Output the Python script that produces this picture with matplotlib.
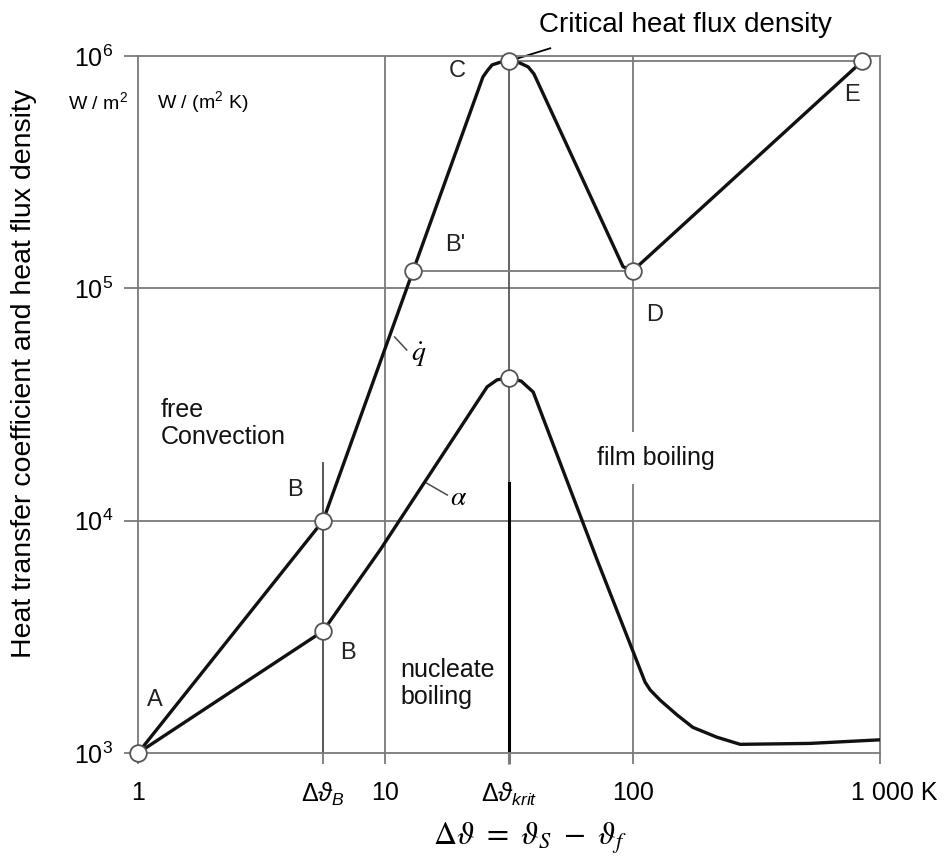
"""
Boiling curve (Nukiyama) - heat flux density q and heat transfer
coefficient alpha versus wall superheat, log-log.
"""

import matplotlib
matplotlib.use("Agg")
import matplotlib.pyplot as plt
from matplotlib.ticker import NullLocator
from matplotlib.transforms import ScaledTranslation

# ─── Style ───────────────────────────────────────────────────────────────────
plt.rcParams["font.family"] = ["Liberation Sans", "DejaVu Sans"]
plt.rcParams["mathtext.fontset"] = "custom"
plt.rcParams["mathtext.rm"] = "Liberation Sans"
plt.rcParams["mathtext.it"] = "Liberation Sans:italic"
plt.rcParams["mathtext.bf"] = "Liberation Sans:bold"
plt.rcParams["mathtext.fallback"] = "stixsans"

GREY = "#7a7a7a"
DARK = "#4a4a4a"
CURVE = "#111111"

# ─── Data ────────────────────────────────────────────────────────────────────
# heat flux density q, A - B - B' - C - D - E
dT_q = [1, 5.6, 12.94, 24.8, 25.8, 27.0, 29.1, 31.6, 35.0, 37.8, 39.9, 42.2,
        91.4, 100, 847]
q = [1e3, 1e4, 1.19e5, 8.13e5, 8.63e5, 9.16e5, 9.4e5, 9.5e5, 9.33e5, 8.98e5,
     8.37e5, 7.36e5, 1.24e5, 1.19e5, 9.5e5]

# heat transfer coefficient alpha
dT_a = [1, 5.6, 9.52, 25.8, 28.3, 31.6, 35.4, 39.6, 71.8, 112.2, 117.6, 129,
        151, 175, 219, 272, 521, 1000]
alpha = [1e3, 3.35e3, 7.48e3, 3.77e4, 4.04e4, 4.11e4, 3.99e4, 3.58e4, 6.78e3,
         2.02e3, 1.87e3, 1.69e3, 1.46e3, 1.29e3, 1.17e3, 1.09e3, 1.10e3, 1.14e3]

# marked points
q_pts_dT = [1, 5.6, 12.94, 31.6, 100, 847]
q_pts = [1e3, 1e4, 1.19e5, 9.5e5, 1.19e5, 9.5e5]
a_pts_dT = [5.6, 31.6]
a_pts = [3.35e3, 4.11e4]

dT_B = 5.6
dT_krit = 31.6

xticks = [1, dT_B, 10, dT_krit, 100, 1000]
xticklabels = ["1", r"$\mathit{\Delta\vartheta_B}$", "10",
               r"$\mathit{\Delta\vartheta_{krit}}$", "100", "1 000 K"]
yticks = [1e3, 1e4, 1e5, 1e6]
yticklabels = [r"$10^3$", r"$10^4$", r"$10^5$", r"$10^6$"]


def main():
    fig = plt.figure(figsize=(9.52, 8.61), dpi=100)
    ax = fig.add_axes([0.1450, 0.1254, 0.7794, 0.8095])
    ax.set_xscale("log")
    ax.set_yscale("log")
    ax.set_xlim(1, 1000)
    ax.set_ylim(1e3, 1e6)

    for sp in ax.spines.values():
        sp.set_color(GREY)
        sp.set_linewidth(1.3)

    # grid lines
    for xv in (10, 100):
        ax.axvline(xv, color=GREY, lw=1.3, zorder=1)
    for yv in (1e4, 1e5):
        ax.axhline(yv, color=GREY, lw=1.3, zorder=1)

    # construction lines
    ax.plot([dT_B, dT_B], [1e3, 1.77e4], color=DARK, lw=1.3, zorder=1)
    ax.plot([dT_krit, dT_krit], [1.45e4, 1e6], color=DARK, lw=1.2, zorder=1)
    ax.plot([dT_krit, dT_krit], [1e3, 1.45e4], color="black", lw=2.2, zorder=2)
    ax.plot([q_pts_dT[2], q_pts_dT[4]], [q_pts[2], q_pts[4]], color=GREY, lw=1.3, zorder=1)
    ax.plot([q_pts_dT[3], q_pts_dT[5]], [q_pts[3], q_pts[5]], color=GREY, lw=1.3, zorder=1)

    # curves
    ax.plot(dT_q, q, color=CURVE, lw=2.4, solid_joinstyle="round", zorder=3)
    ax.plot(dT_a, alpha, color=CURVE, lw=2.4, solid_joinstyle="round", zorder=3)

    mk = dict(ls="none", marker="o", ms=12, mfc="white", mec="#555555",
              mew=1.3, zorder=5, clip_on=False)
    ax.plot(q_pts_dT, q_pts, **mk)
    ax.plot(a_pts_dT, a_pts, **mk)

    # ticks
    ax.xaxis.set_minor_locator(NullLocator())
    ax.yaxis.set_minor_locator(NullLocator())
    ax.set_xticks(xticks)
    ax.set_xticklabels(xticklabels)
    ax.set_yticks(yticks)
    ax.set_yticklabels(yticklabels)
    ax.tick_params(axis="x", direction="out", length=8, width=1.3, color=GREY,
                   labelsize=18, pad=12)
    ax.tick_params(axis="y", direction="out", length=10, width=1.3, color=GREY,
                   labelsize=18, pad=8)
    ticks = ax.xaxis.get_major_ticks()
    ticks[1].tick1line.set_color(DARK)
    ticks[3].tick1line.set_color("black")
    ticks[3].tick1line.set_markeredgewidth(2.2)
    last = ax.get_xticklabels()[-1]
    last.set_transform(last.get_transform() + ScaledTranslation(0.14, 0, fig.dpi_scale_trans))

    # point labels
    lab = dict(fontsize=17, ha="center", va="center", color="#222222")
    ax.text(1.17, 1.69e3, "A", **lab)
    ax.text(4.31, 1.36e4, "B", **lab)
    ax.text(7.06, 2.69e3, "B", **lab)
    ax.text(19.1, 1.54e5, "B'", **lab)
    ax.text(19.5, 8.63e5, "C", **lab)
    ax.text(123, 7.68e4, "D", **lab)
    ax.text(771, 6.81e5, "E", **lab)

    # regions
    reg = dict(fontsize=18, ha="left", va="top", color="#111111", linespacing=1.15)
    ax.text(1.23, 3.37e4, "free\nConvection", **reg)
    ax.text(11.5, 2.56e3, "nucleate\nboiling", **reg)
    ax.text(71.8, 1.86e4, "film boiling", fontsize=18, ha="left", va="center",
            color="#111111", zorder=4,
            bbox=dict(facecolor="white", edgecolor="none", pad=10))

    # curve labels with leaders
    ax.plot([10.9, 12.2], [6.18e4, 5.43e4], color=DARK, lw=1.1)
    ax.text(13.6, 5.16e4, r"$\dot{q}$", fontsize=20, ha="center", va="center",
            math_fontfamily="stix")
    ax.plot([14.7, 17.8], [1.45e4, 1.29e4], color=DARK, lw=1.1)
    ax.text(19.7, 1.25e4, r"$\alpha$", fontsize=20, ha="center", va="center",
            math_fontfamily="stix")

    # critical heat flux annotation
    ax.plot([32.5, 46.4], [9.6e5, 1.08e6], color="black", lw=1.3, clip_on=False)
    ax.text(163, 1.36e6, "Critical heat flux density", fontsize=20,
            ha="center", va="center", clip_on=False)

    # units
    fig.text(128 / 952, 1 - 102 / 861, r"W / m$^2$", fontsize=14,
             ha="right", va="center")
    fig.text(157 / 952, 1 - 102 / 861, r"W / (m$^2$ K)", fontsize=14,
             ha="left", va="center")

    # axis titles
    fig.text(24 / 952, 1 - 374 / 861,
             "Heat transfer coefficient and heat flux density",
             fontsize=20.5, rotation=90, ha="center", va="center")
    fig.text(530 / 952, 1 - 838 / 861,
             r"$\Delta\vartheta\ =\ \vartheta_S\ -\ \vartheta_f$",
             fontsize=23, ha="center", va="center", math_fontfamily="stix")

    fig.savefig("out.png", dpi=100)
    plt.close(fig)


if __name__ == "__main__":
    main()
